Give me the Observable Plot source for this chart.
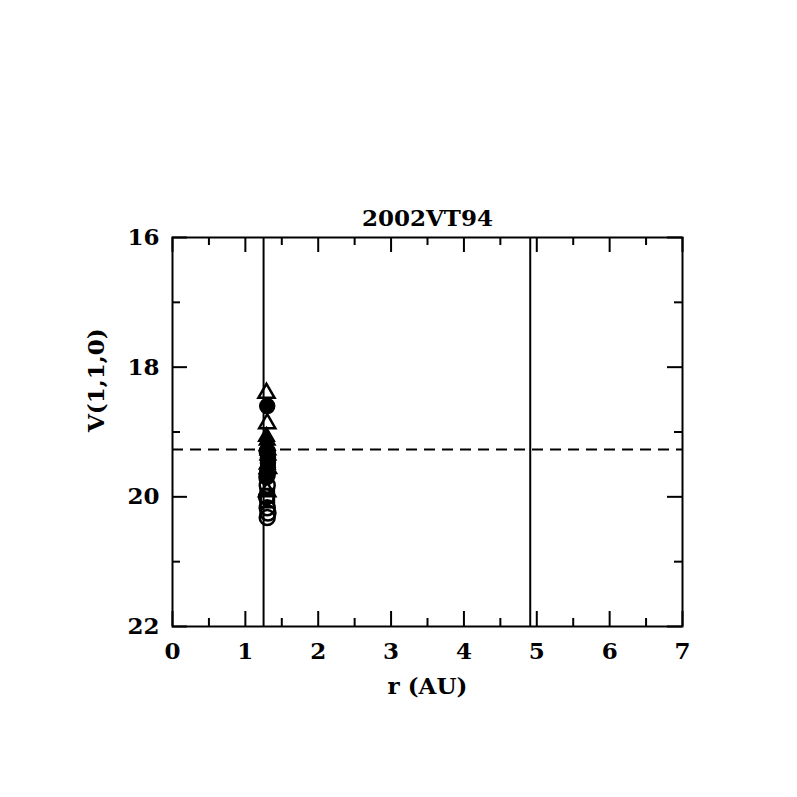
<!DOCTYPE html>
<html>
<head>
<meta charset="utf-8">
<script src="https://cdn.jsdelivr.net/npm/d3@7"></script>
<script src="https://cdn.jsdelivr.net/npm/@observablehq/plot@0.6"></script>
<style>
  html, body { margin: 0; padding: 0; background: #fff; }
</style>
</head>
<body>
<div id="chart"></div>
<script>
const title = "2002VT94";
const xLabel = "r (AU)";
const yLabel = "V(1,1,0)";
const xMajor = [0, 1, 2, 3, 4, 5, 6, 7];
const xMinor = [0.5, 1.5, 2.5, 3.5, 4.5, 5.5, 6.5];
const yMajor = [16, 18, 20, 22];
const yMinor = [17, 19, 21];
const verticalLines = [1.25, 4.91];
const dashedLevel = [19.27];

const openTriangles = [[1.29, 18.40], [1.30, 18.87], [1.31, 19.56], [1.30, 19.92]];
const filledCircles = [[1.30, 18.60], [1.30, 19.30], [1.31, 19.40], [1.31, 19.48], [1.31, 19.55], [1.30, 19.62], [1.29, 19.70]];
const filledTriangles = [[1.29, 19.07], [1.30, 19.13], [1.30, 19.21], [1.31, 19.28], [1.31, 19.36], [1.30, 19.50]];
const openCircles = [[1.30, 19.30], [1.30, 19.66], [1.30, 19.82], [1.29, 20.00], [1.30, 20.17], [1.31, 20.25], [1.30, 20.32]];
const openSquares = [[1.30, 19.98], [1.30, 20.06]];

const font = "DejaVu Serif";
const fs = 23;
const plot = Plot.plot({
  width: 797,
  height: 797,
  marginLeft: 172,
  marginRight: 115,
  marginTop: 237,
  marginBottom: 171,
  style: { fontFamily: font, background: "#fff" },
  x: { domain: [0, 7], axis: null },
  y: { domain: [22, 16], axis: null },
  marks: [
    Plot.ruleX(verticalLines, { stroke: "black", strokeWidth: 2 }),
    Plot.ruleY(dashedLevel, { stroke: "black", strokeWidth: 2, strokeDasharray: "11,7" }),
    Plot.ruleX(xMajor, { stroke: "black", strokeWidth: 2, insetTop: 374 }),
    Plot.ruleX(xMajor, { stroke: "black", strokeWidth: 2, insetBottom: 374 }),
    Plot.ruleX(xMinor, { stroke: "black", strokeWidth: 2, insetTop: 381 }),
    Plot.ruleX(xMinor, { stroke: "black", strokeWidth: 2, insetBottom: 381 }),
    Plot.ruleY(yMajor, { stroke: "black", strokeWidth: 2, insetRight: 495 }),
    Plot.ruleY(yMajor, { stroke: "black", strokeWidth: 2, insetLeft: 495 }),
    Plot.ruleY(yMinor, { stroke: "black", strokeWidth: 2, insetRight: 502 }),
    Plot.ruleY(yMinor, { stroke: "black", strokeWidth: 2, insetLeft: 502 }),
    Plot.frame({ stroke: "black", strokeWidth: 2 }),
    Plot.text(xMajor, { x: d => d, frameAnchor: "bottom", dy: 32, text: d => String(d), fontSize: fs, fontWeight: "bold", fill: "black" }),
    Plot.text(yMajor, { y: d => d, frameAnchor: "left", dx: -13, textAnchor: "end", text: d => String(d), fontSize: fs, fontWeight: "bold", fill: "black" }),
    Plot.dot(openCircles, { x: d => d[0], y: d => d[1], symbol: "circle", r: 7.5, stroke: "black", strokeWidth: 2.5, fill: "none" }),
    Plot.dot(openSquares, { x: d => d[0], y: d => d[1], symbol: "square", r: 7.5, stroke: "black", strokeWidth: 2.5, fill: "none" }),
    Plot.dot(openTriangles, { x: d => d[0], y: d => d[1], symbol: "triangle", r: 6, stroke: "black", strokeWidth: 2.5, fill: "none" }),
    Plot.dot(filledTriangles, { x: d => d[0], y: d => d[1], symbol: "triangle", r: 6, stroke: "black", strokeWidth: 1.5, fill: "black" }),
    Plot.dot(filledCircles, { x: d => d[0], y: d => d[1], symbol: "circle", r: 7.5, stroke: "black", strokeWidth: 1.5, fill: "black" }),
    Plot.text([title], { frameAnchor: "top", dy: -28, text: d => d, fontSize: fs, fontWeight: "bold", fill: "black" }),
    Plot.text([xLabel], { frameAnchor: "bottom", dy: 67, text: d => d, fontSize: fs, fontWeight: "bold", fill: "black" }),
    Plot.text([yLabel], { frameAnchor: "left", dx: -76, rotate: -90, text: d => d, fontSize: fs, fontWeight: "bold", fill: "black" })
  ]
});
document.getElementById("chart").appendChild(plot);
</script>
</body>
</html>
